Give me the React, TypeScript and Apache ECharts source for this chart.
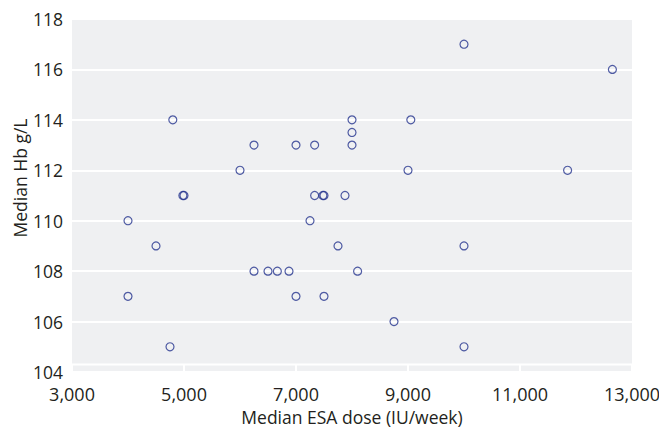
import React, { useEffect, useRef } from "react";
import * as echarts from "echarts";

const doses = [4800, 4980, 5000, 6250, 6000, 7000, 7333, 8000, 8000, 8000, 7333, 7480, 7500, 7875, 10000, 12650, 9050, 9000, 11850, 4000, 7250, 4500, 7750, 6250, 6500, 6667, 6875, 8100, 4000, 7000, 7500, 4750, 10000, 8750, 10000];
const hb = [114, 111, 111, 113, 112, 113, 113, 114, 113.5, 113, 111, 111, 111, 111, 117, 116, 114, 112, 112, 110, 110, 109, 109, 108, 108, 108, 108, 108, 107, 107, 107, 105, 109, 106, 105];

const xTicks = [3000, 5000, 7000, 9000, 11000, 13000];
const yTicks = [104, 106, 108, 110, 112, 114, 116, 118];

const FONT = "'Open Sans', 'Noto Sans', sans-serif";
const TXT = "#231f20";

export default function App() {
  const ref = useRef<HTMLDivElement>(null);
  useEffect(() => {
    if (!ref.current) return;
    const chart = echarts.init(ref.current, undefined, { renderer: "svg" });
    const data = doses.map((d, i) => [d, hb[i]]);
    chart.setOption({
      animation: false,
      backgroundColor: "#ffffff",
      grid: {
        left: 72,
        right: 27,
        top: 19,
        bottom: 59,
        show: true,
        backgroundColor: "#eff0f2",
        borderWidth: 0,
        outerBoundsMode: "none",
        containLabel: false,
      },
      xAxis: {
        type: "value",
        min: xTicks[0],
        max: xTicks[xTicks.length - 1],
        interval: 2000,
        name: "Median ESA dose (IU/week)",
        nameLocation: "middle",
        nameGap: 31,
        nameTextStyle: { fontFamily: FONT, fontSize: 17.5, color: TXT },
        axisLine: { show: false },
        axisTick: { show: true, inside: true, length: 8, lineStyle: { color: "#ffffff", width: 2 } },
        splitLine: { show: false },
        axisLabel: {
          fontFamily: FONT,
          fontSize: 18,
          color: TXT,
          margin: 13,
          formatter: (v: number) => v.toLocaleString("en-US"),
        },
      },
      yAxis: {
        type: "value",
        min: yTicks[0],
        max: yTicks[yTicks.length - 1],
        interval: 2,
        axisLine: { show: false },
        axisTick: { show: false },
        splitLine: { show: true, lineStyle: { color: "#ffffff", width: 2 } },
        axisLabel: { fontFamily: FONT, fontSize: 17.5, color: TXT, margin: 9 },
      },
      graphic: [
        {
          type: "text",
          x: 20,
          y: 178,
          rotation: Math.PI / 2,
          style: {
            text: "Median Hb g/L",
            fontFamily: FONT,
            fontSize: 17.5,
            fill: TXT,
            align: "center",
            verticalAlign: "middle",
          },
        },
        {
          type: "line",
          shape: { x1: 72, y1: 364.5, x2: 632, y2: 364.5 },
          style: { stroke: "#ffffff", lineWidth: 2 },
          silent: true,
        },
      ],
      series: [
        {
          type: "scatter",
          data,
          symbol: "circle",
          symbolSize: 8,
          itemStyle: { color: "rgba(0,0,0,0)", borderColor: "#26358f", borderWidth: 1.2 },
        },
      ],
    });
    return () => chart.dispose();
  }, []);
  return (
    <div
      ref={ref}
      style={{ position: "absolute", left: 0, top: 0, width: 659, height: 431 }}
    />
  );
}
